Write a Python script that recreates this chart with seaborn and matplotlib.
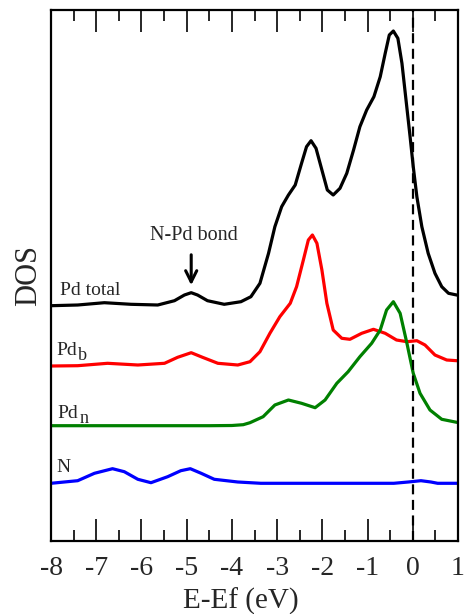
"""
Projected DOS of Pd (total, bulk-like, N-bonded) and N, stacked with offsets.
"""

import matplotlib
matplotlib.use('Agg')
import matplotlib.pyplot as plt
import seaborn as sns

# Energies (eV, relative to Ef) and DOS values (arb. units)
pd_total_e = [-8.0, -7.41, -6.82, -6.23, -5.64, -5.27, -5.05, -4.9, -4.76, -4.54,
              -4.17, -3.8, -3.58, -3.38, -3.19, -3.05, -2.9, -2.75, -2.6, -2.46,
              -2.35, -2.25, -2.14, -2.01, -1.89, -1.76, -1.61, -1.46, -1.31, -1.17,
              -1.02, -0.86, -0.72, -0.61, -0.52, -0.43, -0.33, -0.24, -0.15, -0.06,
              0.01, 0.09, 0.2, 0.34, 0.49, 0.64, 0.79, 0.97, 1.0]
pd_total_dos = [0.0, 0.07, 0.3, 0.14, 0.07, 0.5, 1.07, 1.3, 1.07, 0.5,
                0.14, 0.4, 0.9, 2.24, 5.24, 7.9, 9.9, 11.07, 12.07, 14.24,
                15.9, 16.5, 15.74, 13.57, 11.57, 11.07, 11.74, 13.24, 15.57, 17.9,
                19.57, 20.9, 22.9, 25.24, 27.07, 27.47, 26.74, 24.24, 20.57, 16.9,
                13.9, 10.9, 7.9, 5.24, 3.24, 1.9, 1.24, 1.07, 1.05]

pd_b_e = [-8.0, -7.41, -6.75, -6.08, -5.49, -5.2, -4.9, -4.65, -4.31, -3.87,
          -3.6, -3.38, -3.16, -2.94, -2.71, -2.57, -2.42, -2.31, -2.22, -2.12,
          -2.01, -1.9, -1.76, -1.57, -1.39, -1.13, -0.87, -0.61, -0.36, -0.13,
          0.09, 0.27, 0.49, 0.75, 0.97, 1.0]
pd_b_dos = [0.0, 0.03, 0.27, 0.1, 0.27, 0.87, 1.33, 0.87, 0.27, 0.1,
            0.43, 1.43, 3.27, 4.93, 6.27, 7.93, 10.6, 12.6, 13.1, 12.27,
            9.6, 6.27, 3.6, 2.77, 2.67, 3.27, 3.67, 3.27, 2.6, 2.43,
            2.53, 2.1, 1.1, 0.6, 0.53, 0.53]

pd_n_e = [-8.0, -6.0, -4.5, -4.0, -3.75, -3.6, -3.31, -3.05, -2.75, -2.46,
          -2.16, -1.94, -1.68, -1.43, -1.17, -0.91, -0.72, -0.58, -0.43, -0.28,
          -0.13, 0.01, 0.16, 0.38, 0.64, 0.97, 1.0]
pd_n_dos = [0.0, 0.0, 0.0, 0.02, 0.1, 0.3, 0.9, 2.07, 2.57, 2.24,
            1.8, 2.57, 4.24, 5.4, 6.9, 8.24, 9.57, 11.57, 12.4, 11.24,
            8.24, 5.24, 3.24, 1.57, 0.64, 0.34, 0.33]

n_e = [-8.0, -7.41, -7.04, -6.64, -6.38, -6.08, -5.79, -5.42, -5.13, -4.92,
       -4.68, -4.39, -3.87, -3.36, -2.0, -0.42, -0.1, 0.18, 0.4, 0.55,
       1.0]
n_dos = [0.0, 0.26, 1.0, 1.46, 1.16, 0.4, 0.06, 0.66, 1.26, 1.46,
         1.0, 0.4, 0.13, 0.0, 0.0, 0.0, 0.13, 0.26, 0.13, 0.0,
         0.0]

x_ticks = [-8, -7, -6, -5, -4, -3, -2, -1, 0, 1]

# vertical offsets used to stack the curves
offsets = [23.53, 17.5, 11.53, 5.77]

sns.set_style('white')
plt.rcParams['font.family'] = ['Liberation Serif', 'DejaVu Serif']

fig = plt.figure(figsize=(4.65, 6.14), dpi=100)
ax = fig.add_axes([0.1097, 0.1189, 0.8753, 0.8648])

curves = [
    (pd_total_e, pd_total_dos, 'black'),
    (pd_b_e, pd_b_dos, '#ff0000'),
    (pd_n_e, pd_n_dos, '#008000'),
    (n_e, n_dos, '#0000ff'),
]
for (e, dos, col), off in zip(curves, offsets):
    sns.lineplot(x=e, y=[d + off for d in dos], color=col, lw=2.3, ax=ax,
                 solid_joinstyle='round', solid_capstyle='round')

ax.axvline(0, color='black', lw=1.6, linestyle=(0, (4.5, 2.5)))

# curve labels (subscripts drawn as separate, slightly smaller texts)
ax.text(-7.8, 24.6, 'Pd total', fontsize=14)
ax.text(-7.87, 18.6, 'Pd', fontsize=14)
ax.annotate('b', xy=(-7.87, 18.6), xytext=(15.5, -3.6), textcoords='offset points',
            fontsize=13)
ax.text(-7.85, 12.3, 'Pd', fontsize=14)
ax.annotate('n', xy=(-7.85, 12.3), xytext=(15.5, -3.6), textcoords='offset points',
            fontsize=13)
ax.text(-7.87, 6.9, 'N', fontsize=14)

ax.annotate('', xy=(-4.9, 25.3), xytext=(-4.9, 28.9),
            arrowprops=dict(arrowstyle='->', lw=2.2, color='black',
                            mutation_scale=20))
ax.text(-4.85, 30.1, 'N-Pd bond', fontsize=14.5, ha='center')

ax.set_xlim(-8, 1)
ax.set_ylim(0, 53.1)
ax.set_xticks(x_ticks)
ax.set_xticklabels([str(t) for t in x_ticks])
ax.set_xticks([t + 0.5 for t in x_ticks[:-1]], minor=True)
ax.set_yticks([])

ax.tick_params(axis='x', which='major', direction='in', top=True, bottom=True,
               length=16, width=1.4, labelsize=20, pad=11)
ax.tick_params(axis='x', which='minor', direction='in', top=True, bottom=True,
               length=8, width=1.4)
for s in ax.spines.values():
    s.set_linewidth(1.6)
    s.set_color('black')

ax.set_xlabel('E-Ef (eV)', fontsize=21, labelpad=0)
ax.set_ylabel('DOS', fontsize=22, labelpad=6)
ax.xaxis.set_label_coords((241 - 51) / 407, -0.088)

plt.savefig('out.png', dpi=100)
plt.close()
